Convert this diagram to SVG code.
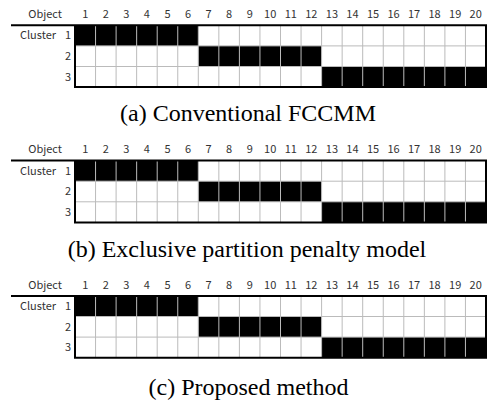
<svg xmlns="http://www.w3.org/2000/svg" xmlns:xlink="http://www.w3.org/1999/xlink" width="487" height="403" viewBox="0 0 487 403">
<style>
.lbl{font-family:"Noto Sans CJK JP","DejaVu Sans",sans-serif;font-size:11px;fill:#333}
.num{text-anchor:middle}
.row{text-anchor:end}
.cap{font-family:"Liberation Serif","Times New Roman",serif;font-size:24px;fill:#000;text-anchor:middle}
.on{fill:#000}
.grid{stroke:#bbb;stroke-width:1;fill:none}
.frame{stroke:#000;stroke-width:2;fill:none}
</style>
<defs>
<g id="panel">
<rect x="0" y="0" width="487" height="90" fill="#fff"/>
<rect class="on" x="75" y="25.3" width="123.3" height="20.6"/>
<rect class="on" x="198.3" y="45.9" width="123.3" height="20.6"/>
<rect class="on" x="321.6" y="66.5" width="164.4" height="20.6"/>
<path class="grid" d="M95.55 25.3V87.1M116.1 25.3V87.1M136.65 25.3V87.1M157.2 25.3V87.1M177.75 25.3V87.1M198.3 25.3V87.1M218.85 25.3V87.1M239.4 25.3V87.1M259.95 25.3V87.1M280.5 25.3V87.1M301.05 25.3V87.1M321.6 25.3V87.1M342.15 25.3V87.1M362.7 25.3V87.1M383.25 25.3V87.1M403.8 25.3V87.1M424.35 25.3V87.1M444.9 25.3V87.1M465.45 25.3V87.1M75 45.9H486M75 66.5H486"/>
<path class="frame" d="M11 25.3H486V87.1H75V25.3"/>
<g class="lbl">
<text x="62" y="18" class="row">Object</text>
<g class="num">
<text x="85.3" y="18">1</text><text x="105.8" y="18">2</text><text x="126.4" y="18">3</text><text x="146.9" y="18">4</text><text x="167.5" y="18">5</text><text x="188" y="18">6</text><text x="208.6" y="18">7</text><text x="229.1" y="18">8</text><text x="249.7" y="18">9</text><text x="270.2" y="18">10</text><text x="290.8" y="18">11</text><text x="311.3" y="18">12</text><text x="331.9" y="18">13</text><text x="352.4" y="18">14</text><text x="373" y="18">15</text><text x="393.5" y="18">16</text><text x="414.1" y="18">17</text><text x="434.6" y="18">18</text><text x="455.2" y="18">19</text><text x="475.7" y="18">20</text>
</g>
<text x="56" y="39.4" class="row">Cluster</text>
<text x="71" y="39.4" class="row">1</text>
<text x="71" y="60" class="row">2</text>
<text x="71" y="80.6" class="row">3</text>
</g>
</g>
</defs>
<g id="panel-a">
<use xlink:href="#panel"/>
<text class="cap" x="248" y="120.7">(a) Conventional FCCMM</text>
</g>
<g id="panel-b">
<use xlink:href="#panel" transform="translate(0,135.3)"/>
<text class="cap" x="247" y="256.7">(b) Exclusive partition penalty model</text>
</g>
<g id="panel-c">
<use xlink:href="#panel" transform="translate(0,270.6)"/>
<text class="cap" x="248.5" y="394.5">(c) Proposed method</text>
</g>
</svg>
